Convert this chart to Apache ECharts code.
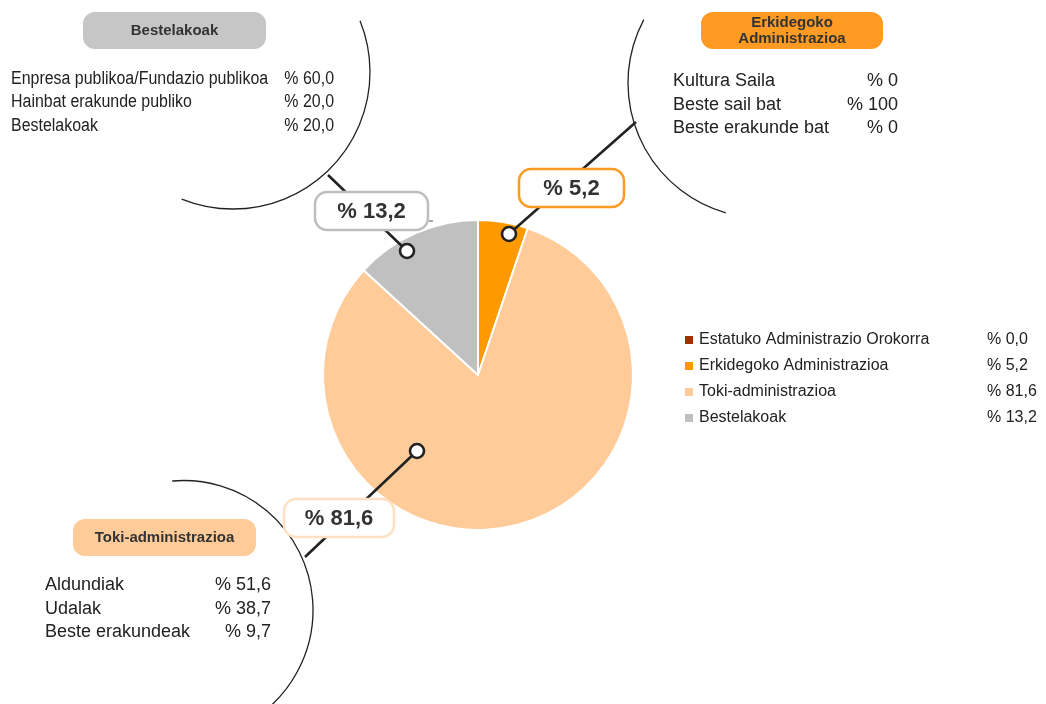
<!DOCTYPE html>
<html>
<head>
<meta charset="utf-8">
<script src="https://cdn.jsdelivr.net/npm/echarts@6/dist/echarts.min.js"></script>
<style>
  html, body { margin: 0; padding: 0; background: #fff; }
  #chart { width: 1046px; height: 704px; }
</style>
</head>
<body>
<div id="chart"></div>
<script>
// pie data
const sliceNames = ['Estatuko Administrazio Orokorra', 'Erkidegoko Administrazioa', 'Toki-administrazioa', 'Bestelakoak'];
const sliceValues = [0.0, 5.2, 81.6, 13.2];
const sliceColors = ['#993300', '#FF9900', '#FFCC99', '#C0C0C0'];

// breakdown of each group
const besteNames = ['Enpresa publikoa/Fundazio publikoa', 'Hainbat erakunde publiko', 'Bestelakoak'];
const besteValues = [60.0, 20.0, 20.0];
const erkidegokoNames = ['Kultura Saila', 'Beste sail bat', 'Beste erakunde bat'];
const erkidegokoValues = [0, 100, 0];
const tokiNames = ['Aldundiak', 'Udalak', 'Beste erakundeak'];
const tokiValues = [51.6, 38.7, 9.7];

const SANS = '"Liberation Sans", Arial, sans-serif';
const INK = '#222';

const fmt = (v, d) => '% ' + v.toFixed(d).replace('.', ',');
const deg = a => a * Math.PI / 180;

// callout layout, one per group (slice index -> where the annotation sits)
// sx: horizontal squeeze of the list text (the long Bestelakoak list is condensed)
const callouts = [
  {
    slice: 3, title: 'Bestelakoak', names: besteNames, values: besteValues, dec: 1,
    head: { x: 83, y: 12, w: 183, h: 37 }, headFill: '#C6C6C6',
    arc: { cx: 233, cy: 72, r: 137, a0: -22, a1: 112 },
    dot: [407, 251], end: [328, 175],
    box: { cx: 371.5, cy: 211, w: 113, h: 38 }, boxStroke: '#BEBEBE',
    list: { x: 11, vx: 334, y: 79, sx: 0.886 }
  },
  {
    slice: 1, title: 'Erkidegoko\nAdministrazioa', names: erkidegokoNames, values: erkidegokoValues, dec: 0,
    head: { x: 701, y: 12, w: 182, h: 37 }, headFill: '#FF9A22',
    arc: { cx: 763, cy: 83, r: 135, a0: 106, a1: 208 },
    dot: [509, 234], end: [636, 122],
    box: { cx: 571.5, cy: 188, w: 105, h: 38 }, boxStroke: '#FF9A22',
    list: { x: 673, vx: 898, y: 81.5, sx: 1 }
  },
  {
    slice: 2, title: 'Toki-administrazioa', names: tokiNames, values: tokiValues, dec: 1,
    head: { x: 73, y: 519, w: 183, h: 37 }, headFill: '#FFCC99',
    arc: { cx: 183.5, cy: 610, r: 129.5, a0: -95, a1: 62 },
    dot: [417, 451], end: [305, 557],
    box: { cx: 339, cy: 518, w: 110, h: 38 }, boxStroke: '#FFE0C2',
    list: { x: 45, vx: 271, y: 585.5, sx: 1 }
  }
];

const graphics = [];
callouts.forEach(c => {
  graphics.push({
    type: 'arc', z: 5, silent: true,
    shape: { cx: c.arc.cx, cy: c.arc.cy, r: c.arc.r, startAngle: deg(c.arc.a0), endAngle: deg(c.arc.a1), clockwise: true },
    style: { stroke: INK, lineWidth: 1.3, fill: null }
  });
  graphics.push({
    type: 'line', z: 5, silent: true,
    shape: { x1: c.dot[0], y1: c.dot[1], x2: c.end[0], y2: c.end[1] },
    style: { stroke: INK, lineWidth: 2.6 }
  });
  graphics.push({
    type: 'circle', z: 6, silent: true,
    shape: { cx: c.dot[0], cy: c.dot[1], r: 7 },
    style: { fill: '#fff', stroke: INK, lineWidth: 2.6 }
  });
  graphics.push({
    type: 'rect', z: 7, silent: true,
    shape: { x: c.box.cx - c.box.w / 2, y: c.box.cy - c.box.h / 2, width: c.box.w, height: c.box.h, r: 12 },
    style: { fill: '#fff', stroke: c.boxStroke, lineWidth: 2.5 }
  });
  graphics.push({
    type: 'text', z: 8, silent: true, x: c.box.cx, y: c.box.cy + 1,
    style: { text: fmt(sliceValues[c.slice], 1), fill: '#333', font: 'bold 22px ' + SANS, align: 'center', verticalAlign: 'middle' }
  });
  graphics.push({
    type: 'rect', z: 7, silent: true,
    shape: { x: c.head.x, y: c.head.y, width: c.head.w, height: c.head.h, r: 12 },
    style: { fill: c.headFill }
  });
  graphics.push({
    type: 'text', z: 8, silent: true, x: c.head.x + c.head.w / 2, y: c.head.y + c.head.h / 2 + 1,
    scaleX: 1.07,
    style: { text: c.title, fill: '#333', font: 'bold 14px ' + SANS, lineHeight: 16, align: 'center', verticalAlign: 'middle' }
  });
  c.names.forEach((n, i) => {
    const y = c.list.y + i * 23.5;
    graphics.push({
      type: 'text', z: 8, silent: true, x: c.list.x, y: y, scaleX: c.list.sx,
      style: { text: n, fill: INK, font: '18px ' + SANS, align: 'left', verticalAlign: 'middle' }
    });
    graphics.push({
      type: 'text', z: 8, silent: true, x: c.list.vx, y: y, scaleX: c.list.sx,
      style: { text: fmt(c.values[i], c.dec), fill: INK, font: '18px ' + SANS, align: 'right', verticalAlign: 'middle' }
    });
  });
});
// stray tick next to the grey box
graphics.push({ type: 'line', z: 5, silent: true, shape: { x1: 429, y1: 221, x2: 433, y2: 221 }, style: { stroke: '#555', lineWidth: 1 } });

const chart = echarts.init(document.getElementById('chart'));
chart.setOption({
  animation: false,
  legend: {
    orient: 'vertical',
    left: 678,
    top: 327,
    itemWidth: 10,
    itemHeight: 10,
    itemGap: 10,
    icon: 'rect',
    selectedMode: false,
    data: sliceNames,
    formatter: name => '{n|' + name + '}{v|' + fmt(sliceValues[sliceNames.indexOf(name)], 1) + '}',
    textStyle: {
      color: INK,
      fontFamily: SANS,
      fontSize: 16,
      rich: {
        n: { width: 288, fontFamily: SANS, fontSize: 16, lineHeight: 19, color: INK },
        v: { fontFamily: SANS, fontSize: 16, lineHeight: 19, color: INK }
      }
    }
  },
  graphic: graphics,
  series: [{
    type: 'pie',
    center: [478, 375],
    radius: 155,
    startAngle: 90,
    clockwise: true,
    silent: true,
    label: { show: false },
    labelLine: { show: false },
    itemStyle: { borderColor: '#fff', borderWidth: 2 },
    data: sliceNames.map((n, i) => ({ name: n, value: sliceValues[i], itemStyle: { color: sliceColors[i] } }))
  }]
});
</script>
</body>
</html>
